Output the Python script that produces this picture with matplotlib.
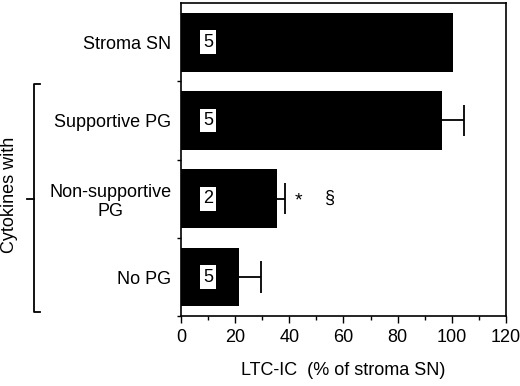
import matplotlib
matplotlib.use("Agg")
import matplotlib.pyplot as plt
from matplotlib.lines import Line2D
import matplotlib.transforms as mtransforms

plt.rcParams['font.family'] = ['Liberation Sans', 'DejaVu Sans']

# data, top to bottom
categories = ["Stroma SN", "Supportive PG", "Non-supportive\nPG", "No PG"]
values = [100.5, 96.5, 35.5, 21.5]
errors = [0, 8, 2.8, 8]
n_labels = ["5", "5", "2", "5"]

fig = plt.figure(figsize=(5.2, 3.86), dpi=100)
ax = fig.add_axes([0.348, 0.181, 0.625, 0.811])

ypos = [3, 2, 1, 0]
ax.barh(ypos, values, height=0.75, color='black')
# one-sided error bars with caps
cap = 0.2
for y, v, e in zip(ypos, values, errors):
    if e > 0:
        ax.hlines(y, v, v + e, color='black', lw=1.3)
        ax.vlines(v + e, y - cap, y + cap, color='black', lw=1.3)
for y, n in zip(ypos, n_labels):
    ax.text(10, y, n, ha='center', va='center', fontsize=13,
            bbox=dict(facecolor='white', edgecolor='none', pad=2.5))

# significance marks
ax.text(43.5, 0.97, "*", ha='center', va='center', fontsize=14)
ax.text(55, 1.0, "§", ha='center', va='center', fontsize=13)

ax.set_xlim(0, 120)
ax.set_ylim(-0.5, 3.5)
ax.set_xticks(range(0, 121, 20))
ax.set_xticks(range(0, 121, 10), minor=True)
ax.set_yticks(ypos)
ax.set_yticklabels(categories, fontsize=13, multialignment='center')
ax.set_yticks([-0.5, 0.5, 1.5, 2.5], minor=True)
ax.tick_params(axis='y', which='major', length=0, pad=7)
ax.tick_params(axis='y', which='minor', length=3, width=1)
ax.tick_params(axis='x', which='major', length=5, width=1, labelsize=13, pad=4)
ax.tick_params(axis='x', which='minor', length=3, width=1)
for sp in ax.spines.values():
    sp.set_linewidth(1.2)

ax.set_xlabel("LTC-IC  (% of stroma SN)", fontsize=13, labelpad=12)

# bracket for "Cytokines with"
tr = mtransforms.blended_transform_factory(fig.transFigure, ax.transData)
xb = 34 / 520
xr = 40 / 520
xl = 27 / 520
fig.add_artist(Line2D([xr, xb, xb, xr], [2.47, 2.47, -0.45, -0.45],
                      transform=tr, color='black', lw=1.3))
fig.add_artist(Line2D([xl, xb], [1.0, 1.0], transform=tr, color='black', lw=1.3))
fig.text(10 / 520, 1 - 195 / 386, "Cytokines with", rotation=90,
         ha='center', va='center', fontsize=13)

fig.savefig("out.png", dpi=100)
